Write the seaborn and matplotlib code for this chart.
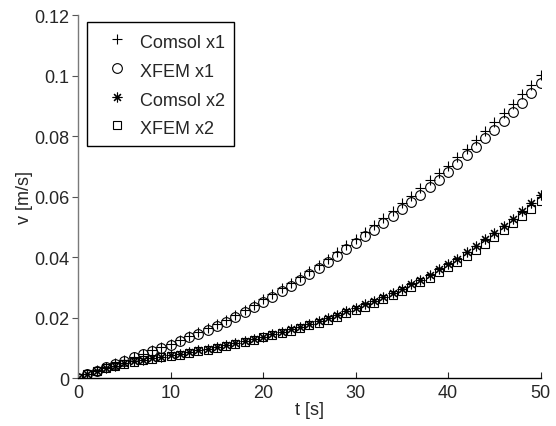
import numpy as np
import pandas as pd
import matplotlib
matplotlib.use("Agg")
import matplotlib.pyplot as plt
import seaborn as sns

# Time samples [s]
t = list(range(0, 51))

# Velocity [m/s] for each solver and position
comsol_x1 = [0.0000, 0.0013, 0.0025, 0.0036, 0.0048, 0.0059, 0.0070, 0.0081, 0.0092, 0.0103,
             0.0114, 0.0126, 0.0139, 0.0151, 0.0165, 0.0178, 0.0192, 0.0207, 0.0224, 0.0241,
             0.0260, 0.0277, 0.0296, 0.0315, 0.0334, 0.0354, 0.0374, 0.0395, 0.0417, 0.0439,
             0.0461, 0.0483, 0.0506, 0.0529, 0.0553, 0.0577, 0.0602, 0.0627, 0.0653, 0.0679,
             0.0702, 0.0730, 0.0758, 0.0787, 0.0816, 0.0846, 0.0876, 0.0907, 0.0938, 0.0969,
             0.1001]
xfem_x1 = [0.0000, 0.0013, 0.0024, 0.0035, 0.0046, 0.0057, 0.0068, 0.0078, 0.0089, 0.0099,
           0.0110, 0.0122, 0.0134, 0.0146, 0.0159, 0.0172, 0.0186, 0.0201, 0.0217, 0.0234,
           0.0252, 0.0269, 0.0287, 0.0305, 0.0324, 0.0343, 0.0363, 0.0383, 0.0404, 0.0425,
           0.0447, 0.0468, 0.0490, 0.0512, 0.0535, 0.0558, 0.0582, 0.0606, 0.0631, 0.0656,
           0.0682, 0.0709, 0.0736, 0.0764, 0.0792, 0.0821, 0.0850, 0.0880, 0.0910, 0.0941,
           0.0975]
comsol_x2 = [0.0000, 0.0013, 0.0024, 0.0033, 0.0041, 0.0048, 0.0055, 0.0061, 0.0066, 0.0071,
             0.0075, 0.0080, 0.0085, 0.0091, 0.0097, 0.0103, 0.0109, 0.0116, 0.0123, 0.0130,
             0.0137, 0.0145, 0.0153, 0.0161, 0.0170, 0.0179, 0.0188, 0.0198, 0.0209, 0.0220,
             0.0231, 0.0243, 0.0255, 0.0268, 0.0281, 0.0295, 0.0310, 0.0325, 0.0342, 0.0359,
             0.0376, 0.0395, 0.0415, 0.0436, 0.0458, 0.0480, 0.0503, 0.0527, 0.0552, 0.0578,
             0.0605]
xfem_x2 = [0.0000, 0.0013, 0.0023, 0.0032, 0.0040, 0.0046, 0.0053, 0.0059, 0.0064, 0.0069,
           0.0073, 0.0077, 0.0082, 0.0088, 0.0094, 0.0100, 0.0106, 0.0113, 0.0120, 0.0127,
           0.0134, 0.0141, 0.0149, 0.0157, 0.0165, 0.0174, 0.0183, 0.0193, 0.0203, 0.0214,
           0.0225, 0.0236, 0.0248, 0.0260, 0.0273, 0.0287, 0.0301, 0.0316, 0.0332, 0.0349,
           0.0366, 0.0384, 0.0403, 0.0423, 0.0444, 0.0466, 0.0488, 0.0511, 0.0535, 0.0559,
           0.0584]

series_names = ["Comsol x1", "XFEM x1", "Comsol x2", "XFEM x2"]
series_values = [comsol_x1, xfem_x1, comsol_x2, xfem_x2]
# plus, circle, eight-spoke asterisk, square
series_markers = ["+", "o", (8, 2, 0), "s"]
series_sizes = [7.5, 7, 7, 6]

x_ticks = [0, 10, 20, 30, 40, 50]
y_ticks = [0, 0.02, 0.04, 0.06, 0.08, 0.1, 0.12]
y_ticklabels = ["0", "0.02", "0.04", "0.06", "0.08", "0.1", "0.12"]

sns.set_style("white")
plt.rcParams["font.family"] = ["Liberation Sans", "DejaVu Sans"]

fig = plt.figure(figsize=(5.56, 4.27), dpi=100)
ax = fig.add_axes([0.1403, 0.1124, 0.8322, 0.8501])

for name, vals, mk, ms in zip(series_names, series_values, series_markers, series_sizes):
    df = pd.DataFrame({"t": t, "v": vals})
    sns.lineplot(data=df, x="t", y="v", ax=ax, linestyle="none", marker=mk,
                 markersize=ms, markerfacecolor="none", markeredgecolor="black",
                 color="black", markeredgewidth=0.8, label=name)

ax.set_xlim(0, 50)
ax.set_ylim(0, 0.12)
ax.set_xticks(x_ticks)
ax.set_yticks(y_ticks)
ax.set_yticklabels(y_ticklabels)
ax.set_xlabel("t [s]", fontsize=13, labelpad=0)
ax.set_ylabel("v [m/s]", fontsize=13, labelpad=1)

for side in ["top", "right"]:
    ax.spines[side].set_visible(False)
ax.spines["bottom"].set_color("black")
ax.spines["left"].set_color("#7a7a7a")
for s in ["bottom", "left"]:
    ax.spines[s].set_linewidth(1.0)
ax.tick_params(axis="x", direction="in", length=4, width=0.8, labelsize=13, pad=4, bottom=True)
ax.tick_params(axis="y", direction="out", length=4, width=0.8, labelsize=13, pad=2, left=True,
               color="#555555")

leg = ax.legend(loc="upper left", bbox_to_anchor=(0.019, 0.98), borderaxespad=0,
                frameon=True, fancybox=False, edgecolor="black", framealpha=1,
                fontsize=13, handlelength=2.3, handleheight=1.3, handletextpad=0.15,
                labelspacing=0.49, borderpad=0.5)
leg.get_frame().set_linewidth(1.0)

fig.savefig("out.png", dpi=100)
